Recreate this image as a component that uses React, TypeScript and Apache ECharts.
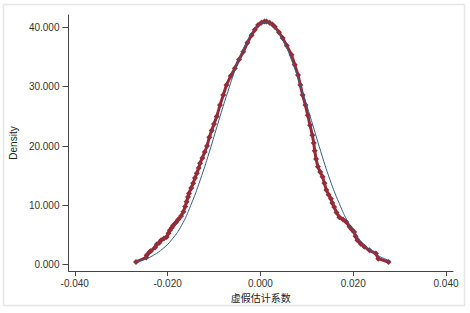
import React, { useEffect, useRef } from "react";
import * as echarts from "echarts";

const xTicks = [-0.04, -0.02, 0, 0.02, 0.04];
const yTicks = [0, 10, 20, 30, 40];

// kernel density estimate (red markers)
const kdeX = [
  -0.0268, -0.0246, -0.0245, -0.0239, -0.0236, -0.0227, -0.0223, -0.0218, -0.0214, -0.0208,
  -0.0202, -0.0198, -0.0195, -0.0191, -0.0188, -0.0182, -0.0177, -0.0171, -0.0166, -0.0162,
  -0.0159, -0.0156, -0.0154, -0.0149, -0.0145, -0.0141, -0.0137, -0.0133, -0.013, -0.0125,
  -0.012, -0.0115, -0.011, -0.0105, -0.01, -0.0094, -0.0087, -0.008, -0.0073, -0.0064,
  -0.0055, -0.0046, -0.0037, -0.0028, -0.0019, -0.0012, -0.0005, 0.0002, 0.0009, 0.0013,
  0.002, 0.0026, 0.0031, 0.004, 0.0048, 0.0057, 0.0067, 0.0074, 0.0081, 0.0086,
  0.0091, 0.0097, 0.0102, 0.0107, 0.0112, 0.0115, 0.0117, 0.012, 0.0124, 0.0129,
  0.0134, 0.0138, 0.0142, 0.0147, 0.0152, 0.0155, 0.0159, 0.0164, 0.017, 0.0178,
  0.0185, 0.0192, 0.0197, 0.0202, 0.0205, 0.0209, 0.0216, 0.0224, 0.0235, 0.0249,
  0.0254, 0.0276,
];
const kdeY = [
  0.44, 1.18, 1.57, 2.13, 2.3, 2.87, 3.43, 3.7, 4.1, 4.4,
  4.66, 5.3, 5.8, 6.2, 6.6, 7.1, 7.6, 8.2, 8.9, 9.8,
  10.6, 11.4, 12.0, 12.9, 13.7, 14.6, 15.4, 16.3, 17.1, 18.0,
  19.0, 20.0, 21.5, 22.6, 23.7, 25.0, 26.9, 28.6, 30.3, 31.8,
  33.1, 34.6, 35.9, 37.4, 38.7, 39.6, 40.4, 40.8, 41.0, 41.0,
  40.8, 40.5, 40.1, 39.2, 38.2, 36.9, 35.4, 33.7, 32.0, 30.3,
  28.6, 26.9, 25.2, 23.5, 21.8, 20.5, 19.2, 17.8, 16.5, 15.6,
  14.8, 13.7, 12.6, 11.8, 11.1, 10.4, 9.7, 8.8, 8.0, 7.6,
  7.2, 6.4, 5.9, 5.5, 4.8, 4.1, 3.5, 3.0, 2.4, 1.86,
  1.0, 0.44,
];

// normal density reference (blue line)
const normX = [
  -0.027, -0.025, -0.023, -0.021, -0.019, -0.017, -0.015, -0.013, -0.011, -0.009,
  -0.007, -0.005, -0.003, -0.001, 0.001, 0.003, 0.005, 0.007, 0.009, 0.011,
  0.013, 0.015, 0.017, 0.019, 0.021, 0.023, 0.025, 0.027, 0.028,
];
const normY = [
  0.45, 0.85, 1.6, 2.7, 4.3, 6.6, 10.0, 14.2, 19.0, 24.2,
  29.2, 33.8, 37.5, 39.9, 40.8, 40.0, 37.6, 33.9, 29.3, 24.3,
  19.1, 14.3, 10.3, 7.0, 4.6, 2.9, 1.7, 0.9, 0.65,
];

export default function App() {
  const ref = useRef<HTMLDivElement>(null);
  useEffect(() => {
    if (!ref.current) return;
    const chart = echarts.init(ref.current, null, { renderer: "svg" });
    const font = "Liberation Sans, Arial, sans-serif";
    chart.setOption({
      animation: false,
      backgroundColor: "#ffffff",
      graphic: [
        {
          type: "rect",
          shape: { x: 3.5, y: 4.5, width: 461, height: 301 },
          style: { fill: "none", stroke: "#e6e6e6", lineWidth: 1.5 },
          silent: true,
        },
      ],
      grid: { left: 67, right: 17, top: 15, bottom: 42, containLabel: false },
      xAxis: {
        type: "value",
        min: -0.04135,
        max: 0.0415,
        name: "虚假估计系数",
        nameLocation: "middle",
        nameGap: 13,
        nameTextStyle: { color: "#222", fontSize: 10, fontFamily: "Noto Sans CJK SC, sans-serif" },
        axisLine: { show: true, onZero: false, lineStyle: { color: "#444", width: 1 } },
        axisTick: { show: true, length: 5, customValues: xTicks, lineStyle: { color: "#444" } },
        axisLabel: {
          customValues: xTicks,
          margin: 7,
          color: "#333",
          fontSize: 10,
          fontFamily: font,
          formatter: (v: number) => v.toFixed(3),
        },
        splitLine: { show: false },
      },
      yAxis: {
        type: "value",
        min: -1.08,
        max: 42.1,
        name: "Density",
        nameLocation: "middle",
        nameGap: 41,
        nameTextStyle: { color: "#222", fontSize: 10, fontFamily: font },
        axisLine: { show: true, onZero: false, lineStyle: { color: "#444", width: 1 } },
        axisTick: { show: true, length: 6, customValues: yTicks, lineStyle: { color: "#444" } },
        axisLabel: {
          customValues: yTicks,
          margin: 9,
          color: "#333",
          fontSize: 10,
          fontFamily: font,
          formatter: (v: number) => v.toFixed(3),
        },
        splitLine: { show: false },
      },
      series: [
        {
          type: "line",
          data: normX.map((x, i) => [x, normY[i]]),
          smooth: true,
          showSymbol: false,
          symbol: "none",
          lineStyle: { color: "#2f5f8a", width: 1 },
          z: 3,
        },
        {
          type: "line",
          data: kdeX.map((x, i) => [x, kdeY[i]]),
          symbol: "diamond",
          symbolSize: 6,
          showAllSymbol: true,
          itemStyle: { color: "#962b38" },
          lineStyle: { color: "#962b38", width: 3 },
          z: 2,
        },
      ],
    });
    return () => chart.dispose();
  }, []);
  return (
    <div
      ref={ref}
      style={{ position: "fixed", left: 0, top: 0, width: 470, height: 313 }}
    />
  );
}
